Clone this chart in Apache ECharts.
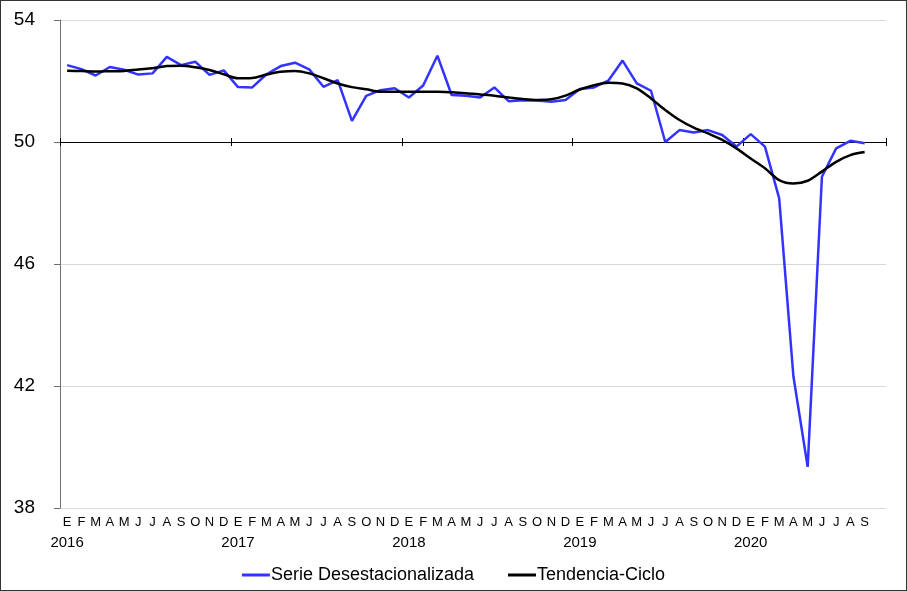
<!DOCTYPE html>
<html><head><meta charset="utf-8">
<script src="https://cdn.jsdelivr.net/npm/echarts@6/dist/echarts.min.js"></script>
<style>html,body{margin:0;padding:0;background:#fff;overflow:hidden}
#wrap{position:relative;width:907px;height:591px}
#c{width:907px;height:591px}
#frame{position:absolute;left:0;top:0;width:905px;height:589px;border:1px solid #333;pointer-events:none}</style>
</head><body><div id="wrap"><div id="c"></div><div id="frame"></div></div>
<script>
const monthLetters = ["E","F","M","A","M","J","J","A","S","O","N","D"];
const years = ["2016","2017","2018","2019","2020"];
const yTicks = [38, 42, 46, 50, 54];
const serieDesest = [
  52.52, 52.39, 52.18, 52.46, 52.37, 52.21, 52.25, 52.79, 52.52, 52.63, 52.20, 52.35,
  51.80, 51.79, 52.22, 52.49, 52.60, 52.38, 51.81, 52.03, 50.69, 51.51, 51.70, 51.76,
  51.46, 51.85, 52.83, 51.54, 51.52, 51.46, 51.79, 51.34, 51.37, 51.36, 51.32, 51.38,
  51.74, 51.79, 52.01, 52.67, 51.92, 51.68, 50.00, 50.39, 50.31, 50.39, 50.23, 49.85,
  50.26, 49.85, 48.15, 42.31, 39.35, 48.86, 49.79, 50.04, 49.96
];
const tendenciaCiclo = [
  52.34, 52.33, 52.31, 52.32, 52.33, 52.38, 52.42, 52.49, 52.50, 52.45, 52.36, 52.22,
  52.09, 52.10, 52.21, 52.30, 52.33, 52.25, 52.09, 51.92, 51.80, 51.73, 51.65, 51.65,
  51.65, 51.65, 51.65, 51.63, 51.60, 51.56, 51.52, 51.46, 51.41, 51.38, 51.40, 51.52,
  51.72, 51.86, 51.94, 51.92, 51.76, 51.43, 51.05, 50.72, 50.47, 50.28, 50.07, 49.79,
  49.46, 49.14, 48.75, 48.64, 48.73, 49.03, 49.35, 49.57, 49.67
];
// categories: one per month plus one empty slot at the end of the axis
const categories = [];
for (let y = 0; y < years.length; y++) {
  for (let m = 0; m < 12; m++) {
    if (categories.length < serieDesest.length) categories.push(years[y] + "-" + (m + 1));
  }
}
categories.push("");

const FONT = "Liberation Sans, Arial, sans-serif";
const chart = echarts.init(document.getElementById('c'), null, {renderer: 'canvas'});
const baseAxis = {type: 'category', data: categories, boundaryGap: true, gridIndex: 0};
const yearTick = function (i) { return i % 12 === 0; };
chart.setOption({
  animation: false,
  backgroundColor: '#fff',
  textStyle: {fontFamily: FONT},
  grid: {left: 60, right: 21, top: 20, bottom: 83, containLabel: false},
  xAxis: [
    Object.assign({}, baseAxis, {
      position: 'bottom',
      axisLine: {show: false}, axisTick: {show: false}, splitLine: {show: false},
      axisLabel: {
        interval: 0, margin: 8, color: '#000', fontSize: 13, fontFamily: FONT,
        formatter: function (v) {
          if (v === "") return "";
          return monthLetters[parseInt(v.split("-")[1], 10) - 1];
        }
      }
    }),
    Object.assign({}, baseAxis, {
      position: 'bottom',
      axisLine: {show: false}, axisTick: {show: false}, splitLine: {show: false},
      axisLabel: {
        interval: yearTick, margin: 27, color: '#000', fontSize: 15, fontFamily: FONT,
        formatter: function (v) { return v === "" ? "" : v.split("-")[0]; }
      }
    }),
    Object.assign({}, baseAxis, {
      position: 'top', offset: -122,
      axisLine: {show: true, lineStyle: {color: '#000', width: 1}},
      axisTick: {show: true, length: 4, lineStyle: {color: '#000'}, interval: yearTick},
      axisLabel: {show: false}, splitLine: {show: false}
    }),
    Object.assign({}, baseAxis, {
      position: 'bottom', offset: -366,
      axisLine: {show: true, lineStyle: {color: '#000', width: 1}},
      axisTick: {show: true, length: 4, lineStyle: {color: '#000'}, interval: yearTick},
      axisLabel: {show: false}, splitLine: {show: false}
    })
  ],
  yAxis: {
    type: 'value', min: yTicks[0], max: yTicks[yTicks.length - 1], interval: 4,
    axisLine: {show: true, lineStyle: {color: '#707070', width: 1}},
    axisTick: {show: true, length: 6, lineStyle: {color: '#707070'}},
    axisLabel: {color: '#000', fontSize: 19, fontFamily: FONT, margin: 25},
    splitLine: {show: true, lineStyle: {color: '#d9d9d9', width: 1}}
  },
  legend: {
    top: 561, left: 'center', itemGap: 34, itemWidth: 28, itemHeight: 3,
    icon: 'rect',
    textStyle: {color: '#000', fontSize: 18, fontFamily: FONT, padding: [0, 0, 0, -4]},
    data: ['Serie Desestacionalizada', 'Tendencia-Ciclo']
  },
  series: [
    {
      name: 'Serie Desestacionalizada', type: 'line', xAxisIndex: 0, data: serieDesest,
      showSymbol: false, symbol: 'none', smooth: false,
      lineStyle: {color: '#3333ff', width: 2.5}, itemStyle: {color: '#3333ff'}, z: 3
    },
    {
      name: 'Tendencia-Ciclo', type: 'line', xAxisIndex: 0, data: tendenciaCiclo,
      showSymbol: false, symbol: 'none', smooth: 0.3,
      lineStyle: {color: '#000', width: 2.5}, itemStyle: {color: '#000'}, z: 4
    }
  ]
});
</script></body></html>
